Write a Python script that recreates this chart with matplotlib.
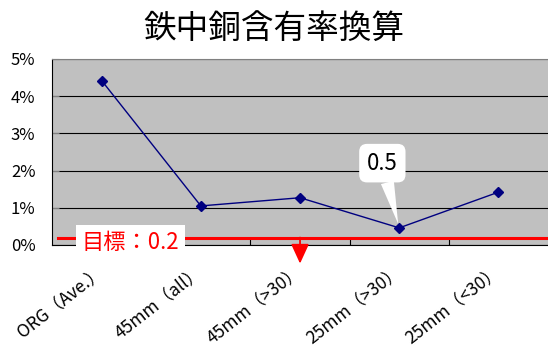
import matplotlib.pyplot as plt
import matplotlib.transforms as mtransforms
from matplotlib.ticker import FuncFormatter

plt.rcParams['font.family'] = ['Noto Sans CJK JP', 'DejaVu Sans']

# 銅含有率 (%)
labels = ['ORG（Ave.）', '45mm（all）', '45mm（>30）', '25mm（>30）', '25mm（<30）']
values = [4.42, 1.05, 1.27, 0.46, 1.42]
target = 0.2
callout_idx = 3
arrow_idx = 2

fig = plt.figure(figsize=(5.48, 3.47), dpi=100)
ax = fig.add_axes([0.095, 0.294, 0.905, 0.536])
ax.set_facecolor('#c0c0c0')

x = range(len(values))
ax.plot(x, values, color='#000080', lw=1, marker='D', ms=5, zorder=3)

ax.set_xlim(-0.5, len(values) - 0.5)
ax.set_ylim(0, 5)
ax.set_yticks(range(0, 6))
ax.yaxis.set_major_formatter(FuncFormatter(lambda v, p: f'{v:.0f}%'))
ax.grid(axis='y', color='black', lw=0.8)
ax.set_axisbelow(True)
ax.set_xticks([i + 0.5 for i in range(len(values) - 1)], minor=False)
ax.set_xticklabels([])
ax.set_xticks(list(x), minor=True)
ax.set_xticklabels(labels, minor=True, rotation=38, ha='right', va='top',
                   rotation_mode='anchor', fontsize=12.5)
ax.tick_params(axis='x', which='minor', length=0, pad=13)
ax.tick_params(axis='x', which='major', direction='in', length=5, color='black')
ax.tick_params(axis='y', direction='in', length=5, color='#808080', labelsize=12, pad=12)
shift = mtransforms.ScaledTranslation(-5 / 100, 0, fig.dpi_scale_trans)
for lab in ax.get_xticklabels(minor=True):
    lab.set_transform(lab.get_transform() + shift)
for s in ['left', 'bottom']:
    ax.spines[s].set_color('black')
ax.spines['top'].set_color('#808080')
ax.spines['right'].set_visible(False)

# 目標ライン
ax.axhline(target, xmin=0.012, xmax=1, color='red', lw=2.2, zorder=4)
ax.text(-0.2, 0.07, f'目標：{target}', color='red', fontsize=16, ha='left', va='center',
        bbox=dict(boxstyle='square,pad=0.25', fc='white', ec='none'), zorder=5, clip_on=False)
ax.annotate('', xy=(arrow_idx, -0.5), xytext=(arrow_idx, target),
            arrowprops=dict(arrowstyle='-|>,head_width=0.55,head_length=1.2',
                            color='red', lw=1.3, shrinkA=0, shrinkB=0),
            annotation_clip=False, zorder=5)

# 吹き出し
v = values[callout_idx]
ax.annotate(f'{v:.1f}', xy=(callout_idx, v), xytext=(callout_idx - 0.17, 2.2),
            ha='center', va='center', fontsize=16,
            bbox=dict(boxstyle='round,pad=0.35', fc='white', ec='none'),
            arrowprops=dict(arrowstyle='wedge,tail_width=0.6', fc='white', ec='none',
                            shrinkA=0, shrinkB=3), zorder=6)

fig.suptitle('鉄中銅含有率換算', fontsize=23.5, x=0.5, y=0.963)
fig.savefig('out.png', dpi=100)
